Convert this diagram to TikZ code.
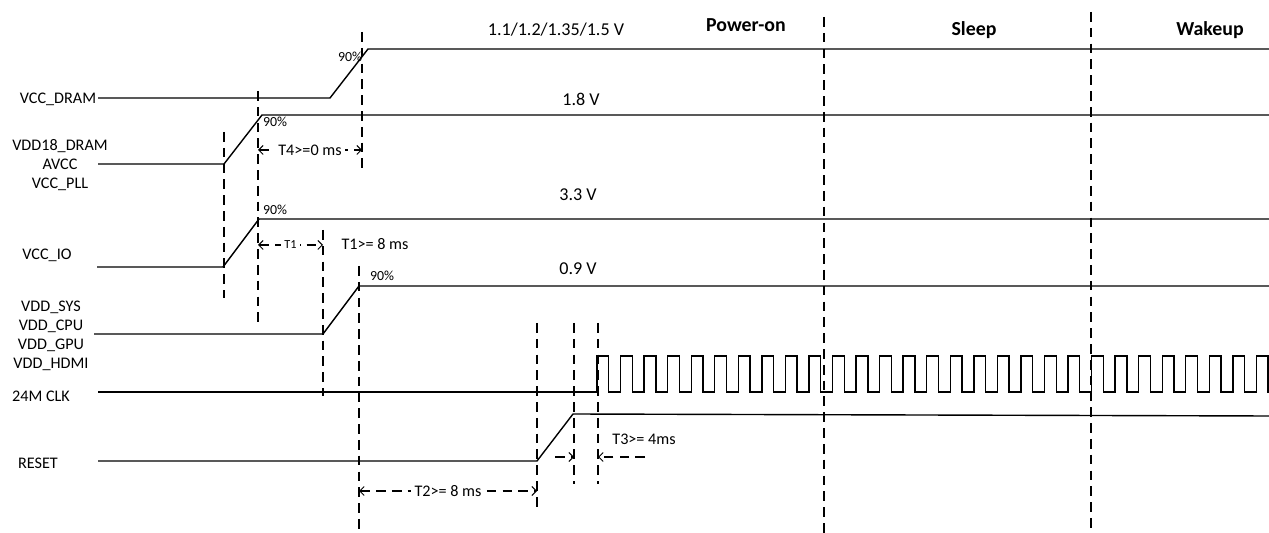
\documentclass[tikz,border=0pt]{standalone}
\usepackage{fontspec}
\setmainfont{Carlito}
\usetikzlibrary{arrows.meta}

\begin{document}
\begin{tikzpicture}[x=0.02cm, y=-0.02cm,
    every node/.style={inner sep=1pt, font=\fontsize{9.2}{11}\selectfont},
    sig/.style={line width=0.8pt, line join=miter},
    guide/.style={line width=0.6pt, dash pattern=on 5.5pt off 3.5pt},
    span/.style={guide, {Straight Barb[length=2.5pt,width=5pt]}-{Straight Barb[length=2.5pt,width=5pt]}},
    volt/.style={font=\fontsize{10.3}{12}\selectfont},
    pct/.style={font=\fontsize{7.9}{9}\selectfont},
    phase/.style={font=\fontsize{11.3}{13}\selectfont\bfseries}]

    \useasboundingbox (0,0) rectangle (1269,533);

    % Parameters
    \def\hp{11.775}   % half clock period

    % =====================================================
    % Signal names
    % =====================================================
    \node (lbl-dram) at (58,99) {VCC\_DRAM};
    \node[align=center] (lbl-dram18) at (60,165) {VDD18\_DRAM\\AVCC\\VCC\_PLL};
    \node (lbl-io) at (47,255) {VCC\_IO};
    \node[align=center, font=\fontsize{9.2}{10.7}\selectfont] (lbl-core) at (51,336) {VDD\_SYS\\VDD\_CPU\\VDD\_GPU\\VDD\_HDMI};
    \node (lbl-clk) at (41,396) {24M CLK};
    \node (lbl-rst) at (38,463) {RESET};

    % =====================================================
    % Waveforms
    % =====================================================
    \draw[sig] (98,98) -- (330,98) -- (368,49) -- (1269,49);
    \draw[sig] (98,164) -- (224,164) -- (262,115) -- (1269,115);
    \draw[sig] (97,267) -- (223,267) -- (259,219) -- (1269,219);
    \draw[sig] (94,334) -- (323,334) -- (359,286) -- (1269,286);
    \draw[sig] (98,461) -- (537,461) -- (573,414) -- (1269,416);

    \begin{scope}
        \clip (0,0) rectangle (1269,533);
        \draw[sig] (98,392) -- (597,392)
            foreach \k in {0,...,28} { -- ++(0,-36) -- ++(\hp,0) -- ++(0,36) -- ++(\hp,0) };
    \end{scope}

    % levels and 90% marks
    \node[volt] (v-dram) at (556,30) {1.1/1.2/1.35/1.5 V};
    \node[volt] (v-dram18) at (581,99) {1.8 V};
    \node[volt] (v-io) at (578,195) {3.3 V};
    \node[volt] (v-core) at (578,269) {0.9 V};

    \node[pct] (p-dram) at (350,57) {90\%};
    \node[pct] (p-dram18) at (275,122) {90\%};
    \node[pct] (p-io) at (275,210) {90\%};
    \node[pct] (p-core) at (382,276) {90\%};

    % =====================================================
    % Guide lines and phases
    % =====================================================
    \foreach \x/\ya/\yb in {224/132/298, 258/91/322, 362/32/174, 323/230/396,
                            359/266/533, 537/323/508, 574/323/484, 598/323/484,
                            824/17/533, 1091/12/533}
        \draw[guide] (\x,\ya) -- (\x,\yb);

    \node[phase] (ph-on) at (746,25) {Power-on};
    \node[phase] (ph-sleep) at (974,30) {Sleep};
    \node[phase] (ph-wake) at (1210,30) {Wakeup};

    % =====================================================
    % Timing spans
    % =====================================================
    \coordinate (t4a) at (258,150);
    \coordinate (t4b) at (362,150);
    \draw[span] (t4a) -- node[fill=white, inner sep=2pt] {T4>=0 ms} (t4b);

    \coordinate (t1a) at (258,245);
    \coordinate (t1b) at (323,245);
    \draw[span] (t1a) -- node[pct, fill=white, inner sep=2pt, font=\fontsize{7}{8}\selectfont] {T1} (t1b);
    \node (t1-txt) at (375,244) {T1>= 8 ms};

    \coordinate (t2a) at (359,491);
    \coordinate (t2b) at (537,491);
    \draw[span] (t2a) -- node[fill=white, inner sep=2pt] {T2>= 8 ms} (t2b);

    \coordinate (t3a) at (555,457);
    \coordinate (t3b) at (574,457);
    \coordinate (t3c) at (645,457);
    \coordinate (t3d) at (598,457);
    \draw[guide, -{Straight Barb[length=2.5pt,width=5pt]}] (t3a) -- (t3b);
    \draw[guide, -{Straight Barb[length=2.5pt,width=5pt]}] (t3c) -- (t3d);
    \node (t3-txt) at (644,439) {T3>= 4ms};

\end{tikzpicture}
\end{document}
